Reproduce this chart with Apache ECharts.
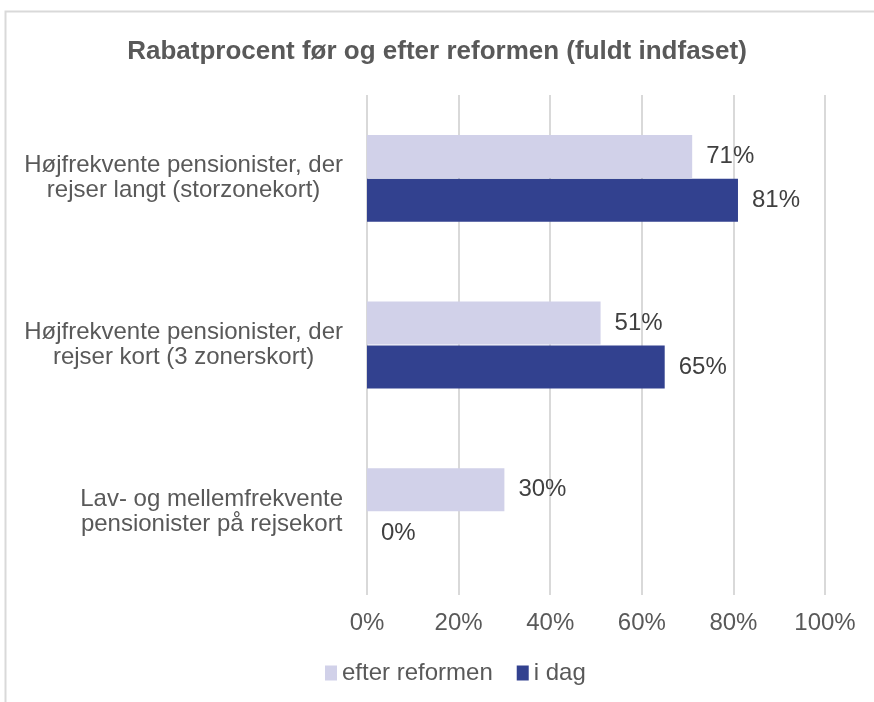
<!DOCTYPE html>
<html>
<head>
<meta charset="utf-8">
<script src="https://cdn.jsdelivr.net/npm/echarts@6/dist/echarts.min.js"></script>
<style>
  html, body { margin: 0; padding: 0; background: #fff; }
  #chart { width: 874px; height: 702px; }
</style>
</head>
<body>
<div id="chart"></div>
<script>
// data
const categories = [
  'Højfrekvente pensionister, der\nrejser langt (storzonekort)',
  'Højfrekvente pensionister, der\nrejser kort (3 zonerskort)',
  'Lav- og mellemfrekvente\npensionister på rejsekort'
];
const efterReformen = [71, 51, 30];
const iDag = [81, 65, 0];
const seriesNames = ['efter reformen', 'i dag'];

let myChart = echarts.init(document.getElementById('chart'));
const font = 'Liberation Sans, Arial, sans-serif';

let labelStyle = {
  show: true,
  position: 'right',
  distance: 14,
  color: '#404040',
  fontSize: 24,
  fontFamily: font,
  formatter: (p) => p.value + '%'
};

let option = {
  backgroundColor: '#fff',
  title: {
    text: 'Rabatprocent før og efter reformen (fuldt indfaset)',
    left: 'center',
    top: 34,
    textStyle: {
      color: '#595959',
      fontSize: 26,
      fontWeight: 'bold',
      fontFamily: font
    }
  },
  graphic: [{
    type: 'rect',
    shape: { x: 5.5, y: 11.5, width: 900, height: 800 },
    style: { fill: 'none', stroke: '#d9d9d9', lineWidth: 2 },
    silent: true
  }],
  legend: {
    bottom: 12,
    left: 320,
    itemWidth: 12,
    itemHeight: 15,
    itemGap: 24,
    icon: 'rect',
    textStyle: { color: '#595959', fontSize: 24, fontFamily: font },
    data: seriesNames
  },
  grid: {
    left: 367,
    right: 49,
    top: 95,
    bottom: 107,
    containLabel: false,
    outerBoundsMode: 'none'
  },
  xAxis: {
    type: 'value',
    min: 0,
    max: 100,
    interval: 20,
    axisLine: { show: false },
    axisTick: { show: false },
    axisLabel: {
      color: '#595959',
      fontSize: 24,
      fontFamily: font,
      margin: 16,
      formatter: '{value}%'
    },
    splitLine: {
      lineStyle: { color: '#d9d9d9', width: 2 }
    }
  },
  yAxis: {
    type: 'category',
    inverse: true,
    data: categories,
    axisLine: { show: false },
    axisTick: { show: false },
    axisLabel: {
      margin: 24,
      align: 'right',
      // lines centred within the right-aligned block
      formatter: (v) => v.split('\n').map(l => '{c|' + l + '}').join('\n'),
      rich: {
        c: {
          align: 'center',
          color: '#595959',
          fontSize: 24,
          lineHeight: 25,
          fontFamily: font
        }
      }
    }
  },
  series: [
    {
      name: seriesNames[0],
      type: 'bar',
      data: efterReformen,
      barWidth: 43,
      barGap: '2%',
      itemStyle: { color: '#d1d1e9' },
      label: labelStyle
    },
    {
      name: seriesNames[1],
      type: 'bar',
      data: iDag,
      barWidth: 43,
      barGap: '2%',
      itemStyle: { color: '#32418f' },
      label: labelStyle
    }
  ]
};
myChart.setOption(option);
</script>
</body>
</html>
